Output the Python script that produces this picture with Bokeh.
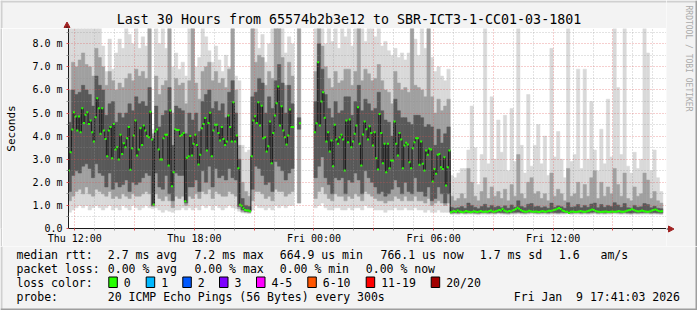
import math
import numpy as np
from bokeh.plotting import figure
from bokeh.layouts import column, row
from bokeh.models import ColumnDataSource, FixedTicker, Range1d
from bokeh.core.properties import value
from bokeh.embed import file_html
from bokeh.resources import INLINE

nan = float("nan")

# ---------------- data ----------------
window_start_h = 11 + 41 / 60 + 3 / 3600   # Thu 11:41:03, hours from Thu 00:00
window_hours = 30
first_sample_h = 11 + 45 / 60              # first 5-minute sample, Thu 11:45
step_minutes = 5

x_tick_hours = [12, 18, 24, 30, 36]
x_tick_labels = ["Thu 12:00", "Thu 18:00", "Fri 00:00", "Fri 06:00", "Fri 12:00"]
y_tick_values = [0, 1, 2, 3, 4, 5, 6, 7, 8]
y_tick_labels = ["0.0", "1.0 m", "2.0 m", "3.0 m", "4.0 m", "5.0 m", "6.0 m", "7.0 m", "8.0 m"]
y_max_ms = 8.66

# median RTT per 5-minute step (ms)
median_ms = [
    2.51, 3.30, 4.29, 5.03, 4.85, 4.24, 4.85, 4.17, 5.21, 4.57,
    4.92, 5.03, 4.53, 4.68, 4.17, 3.77, 4.82, 5.64, 5.21, 4.10,
    5.21, 4.24, 3.88, 3.13, 4.24, 4.39, 3.04, 4.53, 3.42, 3.52,
    2.99, 4.06, 3.23, 3.69, 3.52, 3.91, 4.39, 2.54, 3.48, 4.03,
    4.68, 3.16, 3.42, 4.34, 3.62, 4.46, 4.24, 4.00, 3.95, 5.06,
    3.85, 1.04, 4.20, 4.29, 3.42, 2.99, 2.99, 3.91, 4.06, 4.06,
    2.73, 5.11, 1.83, 2.44, 4.30, 4.27, 4.27, 4.00, 4.06, 4.14,
    1.18, 3.06, 3.13, 4.00, 3.16, 3.67, 4.06, 3.62, 2.77, 3.19,
    4.34, 4.53, 4.78, 3.38, 4.57, 5.01, 3.13, 4.24, 4.49, 4.49,
    4.14, 3.81, 4.39, 3.88, 3.62, 3.77, 4.89, 4.39, 3.77, 5.47,
    3.77, 4.03, 2.61, 1.03, 0.98, 0.88, 0.80, 0.78, 0.78, 0.75,
    3.13, 4.68, 4.86, 4.57, 5.47, 4.46, 5.32, 3.91, 3.95, 3.33,
    3.56, 4.63, 2.83, 4.13, 4.89, 5.42, 6.15, 4.46, 5.29, 4.24,
    3.95, 3.64, 4.03, 5.15, 4.39, 4.39, nan, nan, nan, 4.56,
    nan, nan, nan, nan, nan, nan, nan, nan, 4.17, 4.56,
    7.20, 4.46, 5.50, 5.90, 4.80, 3.77, 4.17, 3.33, 3.81, 2.70,
    4.49, 3.85, 3.67, 3.95, 4.06, 3.85, 2.51, 4.68, 3.74, 4.72,
    3.52, 3.77, 4.10, 4.46, 5.25, 3.67, 2.73, 4.07, 4.63, 4.30,
    3.85, 4.43, 4.13, 3.59, 4.17, 3.04, 2.55, 4.96, 4.13, 2.83,
    3.67, 2.44, 3.67, 2.61, 2.94, 2.94, 4.63, 3.67, 3.16, 4.13,
    3.85, 2.61, 3.59, 3.71, 3.64, 2.87, 2.61, 3.48, 3.74, 3.91,
    3.91, 2.76, 3.77, 2.80, 2.51, 3.38, 3.19, 3.45, 3.42, 2.03,
    2.58, 2.37, 3.19, 3.23, 2.65, 2.58, 3.09, 1.86, 2.65, 3.38,
    0.70, 0.74, 0.76, 0.72, 0.78, 0.74, 0.72, 0.70, 0.73, 0.76,
    0.74, 0.72, 0.70, 0.72, 0.75, 0.73, 0.71, 0.74, 0.76, 0.73,
    0.72, 0.74, 0.73, 0.76, 0.78, 0.74, 0.72, 0.75, 0.77, 0.80,
    0.78, 0.84, 0.78, 0.75, 0.73, 0.76, 0.74, 0.78, 0.80, 0.84,
    0.90, 0.86, 0.80, 0.76, 0.74, 0.72, 0.74, 0.77, 0.75, 0.73,
    0.72, 0.74, 0.73, 0.71, 0.74, 0.76, 0.74, 0.72, 0.75, 0.77,
    0.76, 0.78, 0.80, 0.82, 0.86, 0.89, 0.84, 0.78, 0.76, 0.73,
    0.72, 0.67, 0.72, 0.74, 0.73, 0.71, 0.72, 0.74, 0.76, 0.74,
    0.72, 0.73, 0.75, 0.77, 0.79, 0.82, 0.80, 0.76, 0.74, 0.72,
    0.71, 0.73, 0.72, 0.74, 0.73, 0.71, 0.72, 0.74, 0.73, 0.72,
    0.74, 0.76, 0.74, 0.72, 0.73, 0.75, 0.77, 0.79, 0.80, 0.84,
    0.80, 0.77, 0.75, 0.74, 0.76, 0.78, 0.76, 0.74, 0.72, 0.73,
    0.75, 0.78, 0.80, 0.82, 0.79, 0.76, 0.74, 0.75,
]

# smoke envelope per 10-minute column (ms): outer, middle and inner ping ranges
smoke_min_ms = [
    0.7, 0.8, 0.9, 1.0, 0.9, 1.0, 0.8, 0.9, 1.0, 0.9,
    0.8, 0.9, 1.0, 0.8, 0.9, 0.8, 1.0, 0.9, 0.8, 1.0,
    0.9, 0.8, 0.9, 1.0, 0.9, 0.85, 0.9, 0.8, 0.7, 0.8,
    0.75, 0.7, 0.8, 0.8, 0.9, 0.8, 0.9, 0.8, 0.9, 0.8,
    1.0, 0.9, 1.0, 0.8, 1.0, 0.9, 0.8, 0.9, 1.0, 0.9,
    0.85, 0.75, 0.68, 0.66, 0.65, 0.8, 1.0, 0.9, 0.9, 0.8,
    0.9, 0.8, 1.0, 0.9, 1.0, 0.9, 1.0, 1.0, nan, 1.1,
    nan, nan, nan, nan, 0.9, 1.0, 1.1, 0.9, 0.8, 0.8,
    0.9, 0.9, 0.8, 0.8, 0.9, 0.8, 0.9, 0.9, 0.8, 1.0,
    0.9, 0.9, 0.8, 0.8, 0.8, 0.7, 0.8, 0.8, 0.9, 0.8,
    0.8, 0.9, 0.8, 0.8, 0.9, 0.8, 0.8, 0.7, 0.8, 0.7,
    0.7, 0.8, 0.7, 0.7, 0.7,
    0.61, 0.62, 0.61, 0.63, 0.61, 0.62, 0.62, 0.61, 0.60, 0.62,
    0.62, 0.61, 0.62, 0.61, 0.63, 0.62, 0.61, 0.60, 0.62, 0.62,
    0.63, 0.62, 0.61, 0.62, 0.63, 0.62, 0.61, 0.62, 0.62, 0.61,
    0.62, 0.62, 0.61, 0.62, 0.62, 0.63, 0.61, 0.62, 0.62, 0.61,
    0.62, 0.61, 0.62, 0.63, 0.61, 0.62, 0.61, 0.62, 0.62, 0.63,
    0.62, 0.61, 0.62, 0.61, 0.60, 0.62, 0.61, 0.62, 0.62, 0.62,
    0.61, 0.62, 0.61, 0.60,
]
smoke_lo2_ms = [
    1.2, 1.4, 1.6, 1.7, 1.5, 1.8, 1.5, 1.4, 1.7, 1.6,
    1.5, 1.4, 1.6, 1.3, 1.4, 1.3, 1.5, 1.4, 1.3, 1.5,
    1.4, 1.4, 1.5, 1.6, 1.5, 0.95, 1.5, 1.3, 1.2, 1.4,
    1.2, 0.9, 1.4, 1.3, 1.4, 1.0, 1.4, 1.3, 1.5, 1.3,
    1.6, 1.5, 1.7, 1.3, 1.6, 1.5, 1.4, 1.4, 1.6, 1.5,
    1.4, 0.85, 0.72, 0.70, 0.68, 1.2, 1.6, 1.6, 1.5, 1.3,
    1.4, 1.2, 1.7, 1.6, 1.6, 1.4, 1.5, 1.6, nan, 1.1,
    nan, nan, nan, nan, 1.3, 1.6, 1.8, 1.5, 1.3, 1.2,
    1.5, 1.4, 1.4, 1.2, 1.4, 1.3, 1.5, 1.4, 1.2, 1.6,
    1.5, 1.4, 1.3, 1.2, 1.2, 1.1, 1.2, 1.2, 1.4, 1.3,
    1.2, 1.4, 1.2, 1.2, 1.4, 1.2, 1.2, 1.1, 1.3, 1.0,
    1.1, 1.2, 1.1, 1.0, 1.1,
    0.65, 0.66, 0.65, 0.67, 0.65, 0.66, 0.66, 0.65, 0.64, 0.66,
    0.66, 0.65, 0.66, 0.65, 0.67, 0.66, 0.65, 0.64, 0.66, 0.66,
    0.67, 0.66, 0.65, 0.66, 0.67, 0.66, 0.65, 0.66, 0.66, 0.65,
    0.66, 0.66, 0.65, 0.66, 0.66, 0.67, 0.65, 0.66, 0.66, 0.65,
    0.66, 0.65, 0.66, 0.67, 0.65, 0.66, 0.65, 0.66, 0.66, 0.67,
    0.66, 0.65, 0.66, 0.65, 0.64, 0.66, 0.65, 0.66, 0.66, 0.66,
    0.65, 0.66, 0.65, 0.64,
]
smoke_lo3_ms = [
    1.6, 2.3, 2.5, 2.4, 2.7, 2.8, 2.6, 2.2, 2.8, 2.4,
    2.3, 1.8, 2.4, 1.7, 2.0, 1.8, 1.9, 2.1, 1.6, 2.0,
    1.9, 2.0, 2.2, 2.4, 2.3, 1.0, 2.4, 1.8, 1.7, 2.3,
    1.5, 1.2, 2.4, 2.3, 2.3, 1.1, 1.8, 1.8, 2.1, 1.6,
    2.5, 2.0, 2.7, 1.8, 2.6, 2.2, 2.3, 2.1, 2.6, 2.2,
    2.1, 0.95, 0.8, 0.74, 0.72, 1.7, 2.7, 2.6, 2.3, 1.9,
    2.0, 1.6, 2.9, 2.7, 2.5, 2.1, 2.4, 2.6, nan, 4.3,
    nan, nan, nan, nan, 2.2, 2.7, 3.1, 2.2, 1.9, 1.5,
    2.2, 2.1, 2.2, 1.5, 2.1, 2.0, 2.4, 2.1, 1.5, 2.5,
    2.2, 2.0, 1.8, 1.5, 1.6, 1.4, 1.5, 1.7, 2.1, 1.8,
    1.5, 2.0, 1.6, 1.5, 2.2, 1.6, 1.6, 1.4, 1.8, 1.2,
    1.3, 1.8, 1.5, 1.1, 1.5,
    0.68, 0.69, 0.68, 0.70, 0.68, 0.69, 0.70, 0.68, 0.67, 0.69,
    0.70, 0.68, 0.69, 0.68, 0.70, 0.69, 0.68, 0.67, 0.69, 0.70,
    0.71, 0.69, 0.68, 0.70, 0.71, 0.69, 0.68, 0.69, 0.70, 0.68,
    0.70, 0.69, 0.68, 0.70, 0.69, 0.71, 0.68, 0.69, 0.70, 0.68,
    0.69, 0.68, 0.70, 0.71, 0.68, 0.69, 0.68, 0.70, 0.69, 0.71,
    0.70, 0.68, 0.70, 0.68, 0.67, 0.69, 0.68, 0.69, 0.70, 0.70,
    0.68, 0.69, 0.68, 0.67,
]
smoke_hi3_ms = [
    4.6, 6.0, 5.8, 5.9, 6.2, 6.0, 5.8, 5.3, 6.6, 6.2,
    6.0, 4.9, 5.4, 5.5, 4.6, 5.0, 4.8, 5.0, 5.4, 5.1,
    5.7, 5.4, 5.5, 5.3, 6.1, 3.9, 5.3, 4.4, 4.9, 5.1,
    6.1, 3.6, 5.3, 5.2, 5.1, 4.1, 5.0, 4.7, 5.0, 4.2,
    5.5, 5.8, 6.0, 5.2, 5.5, 5.1, 5.4, 4.8, 5.9, 6.4,
    5.0, 3.0, 1.3, 1.0, 0.95, 5.7, 5.9, 6.5, 6.3, 5.0,
    5.7, 5.2, 6.4, 7.1, 6.3, 5.0, 6.2, 5.4, nan, 4.8,
    nan, nan, nan, nan, 5.5, 8.0, 6.9, 5.8, 5.2, 4.8,
    5.5, 5.0, 5.1, 5.7, 5.7, 4.9, 5.5, 6.2, 5.1, 5.6,
    5.4, 5.1, 5.2, 5.9, 5.1, 4.7, 4.6, 4.0, 5.6, 5.1,
    4.8, 4.8, 4.6, 4.5, 4.9, 4.9, 4.8, 4.4, 4.5, 4.4,
    3.6, 4.3, 3.7, 4.1, 4.4,
    0.92, 0.88, 0.90, 0.95, 0.88, 1.10, 1.00, 0.92, 0.86, 0.95,
    1.05, 0.90, 1.00, 0.92, 0.96, 0.90, 0.98, 0.88, 1.02, 0.92,
    1.20, 0.95, 0.90, 1.05, 1.08, 0.94, 0.96, 0.90, 0.94, 0.88,
    1.10, 0.92, 0.98, 0.94, 0.88, 1.12, 0.92, 0.94, 1.04, 0.90,
    1.00, 0.92, 1.06, 1.10, 0.90, 1.04, 0.92, 1.00, 0.95, 1.12,
    1.02, 0.92, 1.08, 0.90, 0.88, 1.00, 0.92, 0.94, 1.08, 1.04,
    0.90, 0.96, 0.88, 0.86,
]
smoke_hi2_ms = [
    6.0, 7.2, 7.0, 7.3, 7.6, 7.1, 7.0, 6.6, 7.8, 7.4,
    7.0, 6.2, 6.8, 6.4, 6.0, 6.3, 6.1, 6.5, 6.7, 6.4,
    6.9, 6.6, 6.8, 6.5, 8.66, 4.1, 6.6, 5.8, 6.2, 6.4,
    8.66, 5.0, 6.5, 6.2, 6.3, 5.4, 6.4, 8.66, 6.3, 5.6,
    6.8, 7.0, 7.2, 6.4, 6.8, 6.3, 6.5, 6.1, 6.9, 8.66,
    6.0, 3.6, 2.0, 1.6, 1.4, 8.66, 7.2, 7.5, 7.4, 6.2,
    6.8, 6.5, 8.66, 8.66, 7.4, 6.2, 7.2, 6.6, nan, 8.66,
    nan, nan, nan, nan, 6.8, 8.66, 7.9, 7.0, 6.5, 6.1,
    6.8, 6.3, 6.4, 6.9, 6.9, 6.2, 6.8, 8.66, 6.4, 6.9,
    6.7, 6.4, 6.5, 7.1, 6.4, 6.0, 5.9, 5.4, 6.8, 6.3,
    6.0, 6.1, 5.9, 8.66, 6.2, 6.1, 6.0, 5.7, 8.66, 5.7,
    5.0, 5.6, 5.1, 5.3, 5.6,
    1.4, 1.2, 1.3, 1.5, 1.3, 2.6, 2.0, 1.4, 1.2, 1.6,
    2.2, 1.3, 1.8, 1.4, 1.6, 1.3, 1.7, 1.2, 1.9, 1.4,
    3.2, 1.5, 1.3, 2.0, 2.2, 1.5, 1.6, 1.3, 1.5, 1.2,
    2.4, 1.4, 1.7, 1.5, 1.2, 2.6, 1.4, 1.5, 2.0, 1.3,
    1.9, 1.4, 2.2, 2.5, 1.3, 2.0, 1.4, 1.8, 1.5, 2.6,
    1.9, 1.4, 2.4, 1.3, 1.2, 1.8, 1.4, 1.5, 2.4, 2.1,
    1.3, 1.6, 1.2, 1.1,
]
smoke_max_ms = [
    8.66, 8.66, 8.66, 8.66, 8.66, 8.66, 8.66, 8.66, 8.66, 8.66,
    7.9, 6.8, 8.2, 6.9, 7.6, 8.2, 7.8, 8.66, 8.4, 8.0,
    8.66, 7.8, 8.3, 7.9, 8.66, 4.3, 8.66, 8.0, 8.66, 7.8,
    8.66, 7.0, 7.6, 6.9, 7.2, 6.6, 8.66, 8.66, 7.0, 7.4,
    8.66, 8.3, 7.7, 7.2, 7.9, 7.3, 6.8, 7.5, 7.0, 8.66,
    6.6, 6.4, 3.6, 3.3, 3.4, 8.66, 8.66, 7.8, 8.4, 7.2,
    8.0, 8.66, 8.66, 8.66, 8.66, 7.6, 8.3, 8.0, nan, 8.66,
    nan, nan, nan, nan, 8.66, 8.66, 8.66, 8.0, 8.66, 8.1,
    8.66, 7.8, 8.66, 8.3, 8.66, 7.9, 8.66, 8.66, 8.66, 8.1,
    8.66, 8.66, 8.3, 8.66, 7.9, 8.1, 7.7, 7.5, 7.8, 7.4,
    7.6, 7.3, 7.6, 8.66, 8.2, 7.5, 8.66, 7.8, 8.66, 7.4,
    6.8, 7.0, 6.6, 6.4, 6.9,
    2.3, 2.2, 2.4, 2.6, 2.6, 3.4, 5.3, 3.5, 1.9, 3.2,
    8.66, 2.8, 5.7, 3.0, 4.7, 3.3, 4.9, 2.5, 5.2, 2.9,
    8.66, 3.6, 2.4, 5.8, 2.7, 3.6, 4.5, 2.8, 4.0, 2.3,
    7.8, 3.1, 4.2, 3.0, 2.2, 8.66, 2.9, 3.2, 6.9, 2.6,
    6.9, 3.0, 5.5, 3.4, 2.5, 4.3, 2.8, 5.6, 3.1, 8.66,
    6.1, 3.2, 8.66, 2.7, 2.4, 3.3, 2.6, 3.0, 8.66, 7.6,
    2.5, 3.4, 2.2, 1.6,
]

title_text = "Last 30 Hours from 65574b2b3e12 to SBR-ICT3-1-CC01-03-1801"
y_axis_title = "Seconds"
side_text = "RRDTOOL / TOBI OETIKER"
rtt_line = ["median rtt:", "2.7 ms avg", "7.2 ms max", "664.9 us min",
            "766.1 us now", "1.7 ms sd", "1.6", "am/s"]
loss_line = ["packet loss:", "0.00 % avg", "0.00 % max", "0.00 % min", "0.00 % now"]
loss_color_title = "loss color:"
loss_labels = ["0", "1", "2", "3", "4-5", "6-10", "11-19", "20/20"]
loss_colors = ["#26ff00", "#00b8ff", "#0059ff", "#7e00ff", "#ff00ff",
               "#ff5500", "#ff0000", "#a10000"]
probe_line = ["probe:", "20 ICMP Echo Pings (56 Bytes) every 300s",
              "Fri Jan \u00a09 17:41:03 2026"]

n_steps = len(median_ms)
n_cols = len(smoke_min_ms)
assert n_steps == 2 * n_cols, (n_steps, n_cols)
for arr in (smoke_lo2_ms, smoke_lo3_ms, smoke_hi3_ms, smoke_hi2_ms, smoke_max_ms):
    assert len(arr) == n_cols, len(arr)

# ---------------- styling constants ----------------
FONT = "DejaVu Sans Mono"
BACK = "#f3f3f3"
SHADE_A = "#d0d0d0"
SHADE_B = "#9e9e9e"
ARROW = "#a02222"
W, H = 697, 310
FRAME_L, FRAME_R, FRAME_T, FRAME_B = 66, 666, 28, 228
INFO_TOP = 246


def strip(x0, x1, y0, y1, fill=BACK):
    """Helper figure whose frame is the whole strip, in canvas pixel coordinates."""
    f = figure(width=x1 - x0, height=y1 - y0,
               x_range=Range1d(x0, x1), y_range=Range1d(y1, y0),
               output_backend="svg", toolbar_location=None,
               x_axis_type=None, y_axis_type=None,
               min_border=0, min_border_left=0, min_border_right=0,
               min_border_top=0, min_border_bottom=0,
               background_fill_color=fill, border_fill_color=fill,
               outline_line_color=None)
    return f


def box(f, l, t, r, b, fill, line=None):
    f.quad(left=[l], right=[r], top=[t], bottom=[b], fill_color=fill,
           line_color=line, line_width=1)


def texts(f, xs, ys, items, size="11.5px", align="left", color="black", angle=0.0):
    f.text(x=xs, y=ys, text=items, text_font=value(FONT), text_font_size=value(size),
           text_color=color, text_align=align, text_baseline="middle", angle=angle)


# ---------------- main chart ----------------
p = figure(width=FRAME_R - 2, height=INFO_TOP - FRAME_T,
           x_range=Range1d(window_start_h, window_start_h + window_hours),
           y_range=Range1d(0, y_max_ms),
           output_backend="svg", toolbar_location=None,
           min_border_left=FRAME_L - 2, min_border_right=0,
           min_border_top=0, min_border_bottom=INFO_TOP - FRAME_B,
           background_fill_color="white", border_fill_color=BACK,
           outline_line_color=None)

step_h = step_minutes / 60
step_end = first_sample_h + np.arange(n_steps) * step_h
step_start = step_end - step_h
per_col = n_steps // n_cols
col_left = step_start[::per_col]
col_right = step_end[per_col - 1::per_col]

med = np.array(median_ms, dtype=float)
src = ColumnDataSource(dict(
    left=col_left, right=col_right,
    mn=np.array(smoke_min_ms), lo2=np.array(smoke_lo2_ms), lo3=np.array(smoke_lo3_ms),
    hi3=np.array(smoke_hi3_ms), hi2=np.array(smoke_hi2_ms), mx=np.array(smoke_max_ms),
))
for bot, top, col in (("mn", "mx", "#d9d9d9"), ("lo2", "hi2", "#a0a0a0"),
                      ("lo3", "hi3", "#595959")):
    p.quad(left="left", right="right", bottom=bot, top=top, source=src,
           fill_color=col, line_color=col, line_width=0.5)

p.segment(x0=step_start[1:], y0=med[:-1], x1=step_start[1:], y1=med[1:],
          line_color="#1e1e1e", line_width=1)
p.rect(x=(step_start + step_end) / 2, y=med, width=step_h * 1.2, height=2,
       height_units="screen", fill_color="#26ff00", line_color=None)

x_major = list(range(12, 42, 3))
x_minor = [h for h in range(12, 42) if h % 3 != 0]
p.xaxis.ticker = FixedTicker(ticks=x_major, minor_ticks=x_minor)
over = {h: "" for h in x_major}
over.update({h: lab for h, lab in zip(x_tick_hours, x_tick_labels)})
p.xaxis.major_label_overrides = over
p.yaxis.ticker = FixedTicker(ticks=y_tick_values,
                             minor_ticks=[v + 0.5 for v in y_tick_values])
p.yaxis.major_label_overrides = {v: lab for v, lab in zip(y_tick_values, y_tick_labels)}

for ax in (p.xaxis[0], p.yaxis[0]):
    ax.axis_line_color = "#1a1a1a"
    ax.major_tick_line_color = "#de5050"
    ax.minor_tick_line_color = "#9a9a9a"
    ax.major_tick_out = 2
    ax.major_tick_in = 0
    ax.minor_tick_out = 2
    ax.minor_tick_in = 0
    ax.major_label_text_font = FONT
    ax.major_label_text_font_size = "10px"
    ax.major_label_text_color = "black"
p.xaxis.major_label_standoff = 2
p.yaxis.major_label_standoff = 4
p.yaxis.axis_label = y_axis_title
p.yaxis.axis_label_text_font = FONT
p.yaxis.axis_label_text_font_size = "11px"
p.yaxis.axis_label_text_font_style = "normal"
p.yaxis.axis_label_text_color = "black"
p.yaxis.axis_label_standoff = 11

for g in (p.xgrid[0], p.ygrid[0]):
    g.grid_line_color = "#de5050"
    g.grid_line_alpha = 0.55
    g.grid_line_dash = "1 2"
    g.minor_grid_line_color = "#8f8f8f"
    g.minor_grid_line_alpha = 0.5
    g.minor_grid_line_dash = "1 2"
    g.level = "overlay"

# ---------------- surrounding strips ----------------
top = strip(0, FRAME_R, 0, FRAME_T)
box(top, 0, 0, FRAME_R, 2, SHADE_A)
box(top, 0, 0, 2, FRAME_T, SHADE_A)
texts(top, [348.5], [19], [title_text], size="13.3px", align="center")
top.patch(x=[63.5, 69.5, 66.5], y=[27, 27, 21.5], fill_color=ARROW, line_color=ARROW)
top.segment(x0=[66.5], y0=[26], x1=[66.5], y1=[28], line_color="#1a1a1a", line_width=1)

left = strip(0, 2, FRAME_T, INFO_TOP, fill=SHADE_A)

right = strip(FRAME_R, W, 0, INFO_TOP)
box(right, FRAME_R, 0, W, 2, SHADE_A)
box(right, W - 2, 0, W, INFO_TOP, SHADE_B)
right.segment(x0=[FRAME_R], y0=[228.5], x1=[669], y1=[228.5], line_color="#1a1a1a", line_width=1)
right.patch(x=[668, 668, 673.5], y=[225.5, 231.5, 228.5], fill_color=ARROW, line_color=ARROW)
texts(right, [688], [5], [side_text], size="8px", color="#aaaaaa", angle=-math.pi / 2)

info = strip(0, W, INFO_TOP, H)
box(info, 0, INFO_TOP, 2, H, SHADE_A)
box(info, W - 2, INFO_TOP, W, H, SHADE_B)
box(info, 0, H - 2, W, H, SHADE_B)
texts(info, [16, 107.3, 194, 279.3, 380, 479.3, 558.3, 600], [254] * 8, rtt_line)
texts(info, [16, 107.3, 194, 279.3, 365.3], [268] * 5, loss_line)
texts(info, [16], [282], [loss_color_title])
box_x = [108.3, 145.7, 182.3, 219, 256, 307.3, 365.7, 430.7]
info.quad(left=box_x, right=[b + 8.5 for b in box_x], top=[276.5] * 8, bottom=[287] * 8,
          fill_color=loss_colors, line_color="black", line_width=1)
texts(info, [b + 15 for b in box_x], [282] * 8, loss_labels)
texts(info, [16, 107.3, 513.3], [296] * 3, probe_line)

layout = column(row(column(top, row(left, p)), right), info)
open("out.html", "w").write(file_html(layout, INLINE))
